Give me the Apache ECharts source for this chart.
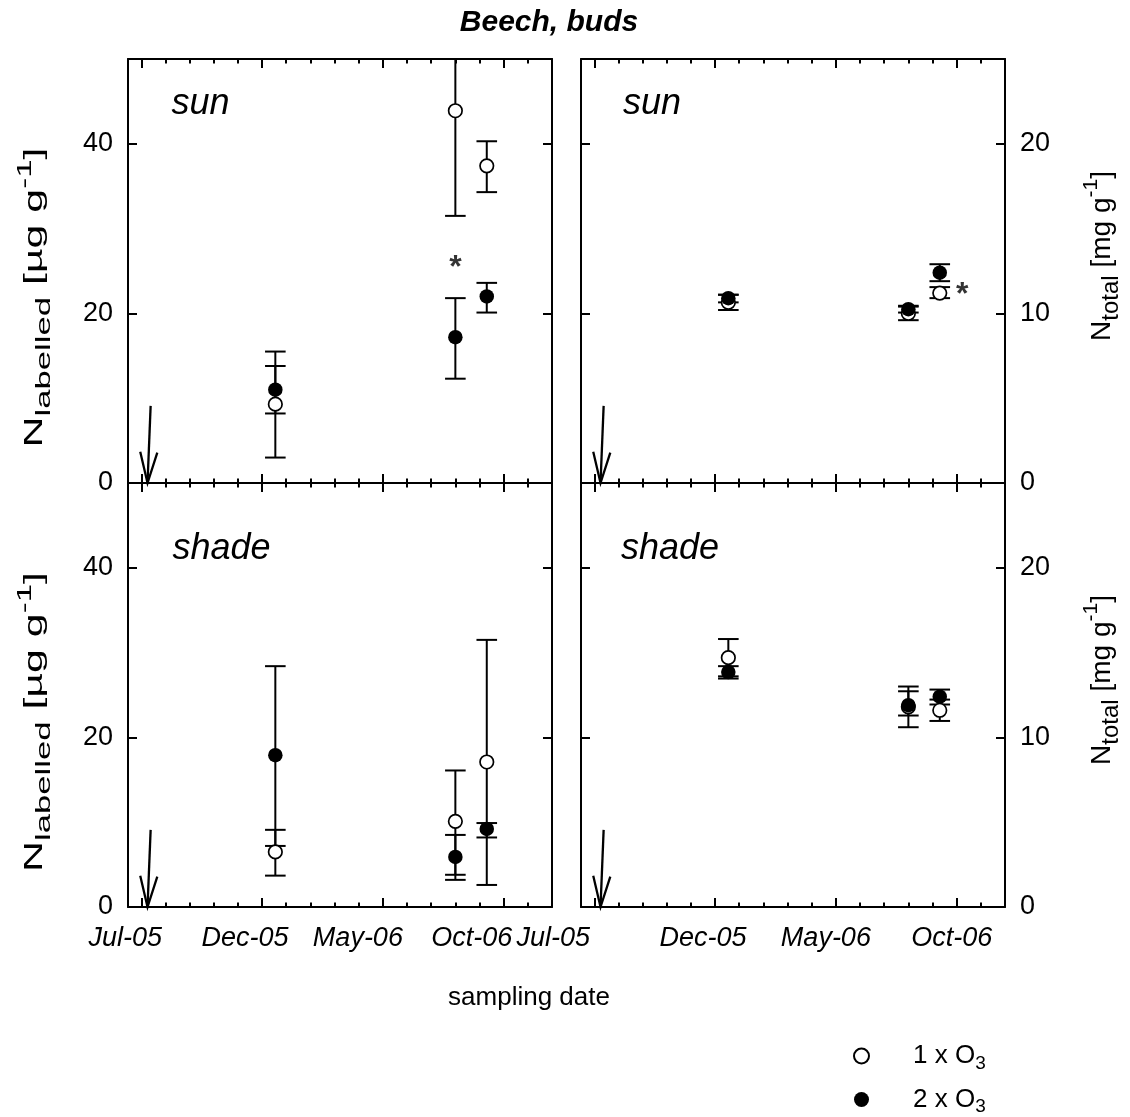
<!DOCTYPE html>
<html><head><meta charset="utf-8">
<script src="https://cdn.jsdelivr.net/npm/echarts@6/dist/echarts.min.js"></script>
<style>html,body{margin:0;padding:0;background:#fff}#c{width:1130px;height:1117px}</style>
</head><body><div id="c"></div>
<script>
// ---------- data ----------
const sampleDates = ['2005-12-18', '2006-08-01', '2006-09-10'];
const xTickVals = [0, 5, 10, 15];                 // months after Jul-05
const xTickLabels = ['Jul-05', 'Dec-05', 'May-06', 'Oct-06'];
const monthTicks = [0, 1, 2, 3, 4, 5, 6, 7, 8, 9, 10, 11, 12, 13, 14, 15, 16];
const yTicksLab = [0, 20, 40];
const yTicksTot = [0, 10, 20];
const yMaxLab = 50, yMaxTot = 25;

// sun, N labelled [µg g-1]
const sunLab1 = [9.3, 43.9, 37.4], sunLab1Lo = [3.0, 31.5, 34.3], sunLab1Hi = [15.5, 56.3, 40.3];
const sunLab2 = [11.0, 17.2, 22.0], sunLab2Lo = [8.2, 12.3, 20.1], sunLab2Hi = [13.8, 21.8, 23.6];
// sun, N total [mg g-1]
const sunTot1 = [10.65, 10.0, 11.2], sunTot1Lo = [10.2, 9.6, 10.9], sunTot1Hi = [11.1, 10.4, 11.55];
const sunTot2 = [10.9, 10.25, 12.4], sunTot2Lo = [10.65, 10.05, 11.9], sunTot2Hi = [11.1, 10.45, 12.9];
// shade, N labelled
const shadeLab1 = [6.5, 10.1, 17.1], shadeLab1Lo = [3.7, 3.8, 2.6], shadeLab1Hi = [9.1, 16.1, 31.5];
const shadeLab2 = [17.9, 5.9, 9.2], shadeLab2Lo = [7.2, 3.2, 8.2], shadeLab2Hi = [28.4, 8.5, 9.9];
// shade, N total
const shadeTot1 = [14.7, 11.8, 11.6], shadeTot1Lo = [13.6, 10.6, 10.97], shadeTot1Hi = [15.8, 13.0, 12.23];
const shadeTot2 = [13.85, 11.9, 12.4], shadeTot2Lo = [13.47, 11.29, 11.94], shadeTot2Hi = [14.2, 12.72, 12.82];

// labelling arrow (tip date, tail date) and its top value per unit
const arrowDates = ['2005-07-09', '2005-07-13'];
const arrowTopLab = 9.1, arrowTopTot = 4.55;
// significance marks
const sigSunLab = [['2006-08-01', 26.2]];
const sigSunTot = [['2006-10-08', 11.5]];

// ---------- helpers ----------
const FONT = '"Liberation Sans", Arial, Helvetica, sans-serif';
function toM(d) {
  const p = d.split('-').map(Number);
  const dim = new Date(p[0], p[1], 0).getDate();
  return (p[0] - 2005) * 12 + (p[1] - 7) + (p[2] - 1) / dim;
}
const sampleX = sampleDates.map(toM);
const pts = v => sampleX.map((x, i) => [x, v[i]]);
const errs = (lo, hi) => sampleX.map((x, i) => [x, lo[i], hi[i]]);
const ST = { stroke: '#000', lineWidth: 2, fill: null };
const STA = { stroke: '#000', lineWidth: 2.3, fill: null };

function errRender(params, api) {
  const x = api.value(0), lo = api.value(1), hi = api.value(2);
  const a = api.coord([x, lo]), b = api.coord([x, hi]);
  const cs = params.coordSys;
  const top = cs.y, bot = cs.y + cs.height;
  const y1 = Math.min(a[1], bot), y2 = Math.max(b[1], top);
  const hw = 10.3;
  const ch = [{ type: 'line', shape: { x1: a[0], y1: y1, x2: a[0], y2: y2 }, style: ST }];
  if (a[1] <= bot) ch.push({ type: 'line', shape: { x1: a[0] - hw, y1: a[1], x2: a[0] + hw, y2: a[1] }, style: ST });
  if (b[1] >= top) ch.push({ type: 'line', shape: { x1: b[0] - hw, y1: b[1], x2: b[0] + hw, y2: b[1] }, style: ST });
  return { type: 'group', children: ch };
}
function arrowRender(params, api) {
  const tip = api.coord([api.value(0), api.value(1)]);
  const tail = api.coord([api.value(2), api.value(3)]);
  const dx = tail[0] - tip[0], dy = tail[1] - tip[1], L = Math.hypot(dx, dy);
  const ux = dx / L, uy = dy / L, hl = 32, ang = 0.27, c = Math.cos(ang), s = Math.sin(ang);
  const h1 = [tip[0] + hl * (ux * c - uy * s), tip[1] + hl * (ux * s + uy * c)];
  const h2 = [tip[0] + hl * (ux * c + uy * s), tip[1] + hl * (-ux * s + uy * c)];
  return { type: 'group', children: [
    { type: 'line', shape: { x1: tip[0], y1: tip[1], x2: tail[0], y2: tail[1] }, style: STA },
    { type: 'polyline', shape: { points: [h1, tip, h2] }, style: STA }
  ] };
}

const nameRich = {
  n: { fontSize: 26, lineHeight: 40, verticalAlign: 'middle', fontFamily: FONT, color: '#000' },
  s: { fontSize: 21, lineHeight: 32, verticalAlign: 'bottom', fontFamily: FONT, color: '#000' },
  p: { fontSize: 20, lineHeight: 20, verticalAlign: 'top', fontFamily: FONT, color: '#000' }
};
const nameRichR = {
  n: { fontSize: 28, lineHeight: 42, verticalAlign: 'middle', fontFamily: FONT, color: '#000' },
  s: { fontSize: 24, lineHeight: 34, verticalAlign: 'bottom', fontFamily: FONT, color: '#000' },
  p: { fontSize: 21, lineHeight: 21, verticalAlign: 'top', fontFamily: FONT, color: '#000' }
};

const cols = [{ left: 128, shifts: [16, 17, 25, 32] }, { left: 581, shifts: [41, 12, 10, 5] }];
const rows = [{ top: 59 }, { top: 483 }];
const W = 424, H = 424;

const panels = [
  { r: 0, c: 0, max: yMaxLab, ticks: yTicksLab, m1: sunLab1, lo1: sunLab1Lo, hi1: sunLab1Hi, m2: sunLab2, lo2: sunLab2Lo, hi2: sunLab2Hi, arrowTop: arrowTopLab, sig: sigSunLab },
  { r: 0, c: 1, max: yMaxTot, ticks: yTicksTot, m1: sunTot1, lo1: sunTot1Lo, hi1: sunTot1Hi, m2: sunTot2, lo2: sunTot2Lo, hi2: sunTot2Hi, arrowTop: arrowTopTot, sig: sigSunTot },
  { r: 1, c: 0, max: yMaxLab, ticks: yTicksLab, m1: shadeLab1, lo1: shadeLab1Lo, hi1: shadeLab1Hi, m2: shadeLab2, lo2: shadeLab2Lo, hi2: shadeLab2Hi, arrowTop: arrowTopLab, sig: [] },
  { r: 1, c: 1, max: yMaxTot, ticks: yTicksTot, m1: shadeTot1, lo1: shadeTot1Lo, hi1: shadeTot1Hi, m2: shadeTot2, lo2: shadeTot2Lo, hi2: shadeTot2Hi, arrowTop: arrowTopTot, sig: [] }
];

const grid = [], xAxis = [], yAxis = [], series = [];
const lineSt = { color: '#000', width: 2 };
panels.forEach((p, g) => {
  const col = cols[p.c], row = rows[p.r];
  grid.push({ left: col.left, top: row.top, width: W, height: H, containLabel: false, outerBoundsMode: 'none' });
  const bottomRow = p.r === 1;
  const rich = {};
  col.shifts.forEach((s, i) => { rich['t' + i] = { padding: [0, 2 * s, 0, 0] }; });
  const baseX = { gridIndex: g, type: 'value', min: -0.55, max: 17, splitLine: { show: false }, axisPointer: { show: false } };
  xAxis.push(Object.assign({}, baseX, {
    position: 'bottom',
    axisLine: { show: true, onZero: false, lineStyle: lineSt },
    axisTick: { show: true, inside: true, length: 9, lineStyle: lineSt, customValues: xTickVals },
    axisLabel: {
      show: bottomRow, customValues: xTickVals, margin: 18, fontSize: 27, fontStyle: 'italic', fontFamily: FONT, color: '#000',
      formatter: v => { const i = xTickVals.indexOf(v); return i < 0 ? '' : '{t' + i + '|' + xTickLabels[i] + '}'; },
      rich: rich
    }
  }));
  xAxis.push(Object.assign({}, baseX, {
    position: 'bottom', axisLine: { show: false, onZero: false },
    axisTick: { show: true, inside: true, length: 4.5, lineStyle: lineSt, customValues: monthTicks },
    axisLabel: { show: false }
  }));
  xAxis.push(Object.assign({}, baseX, {
    position: 'top', axisLine: { show: true, onZero: false, lineStyle: lineSt },
    axisTick: { show: true, inside: true, length: 9, lineStyle: lineSt, customValues: xTickVals },
    axisLabel: { show: false }
  }));
  xAxis.push(Object.assign({}, baseX, {
    position: 'top', axisLine: { show: false, onZero: false },
    axisTick: { show: true, inside: true, length: 4.5, lineStyle: lineSt, customValues: monthTicks },
    axisLabel: { show: false }
  }));
  const baseY = { gridIndex: g, type: 'value', min: 0, max: p.max, splitLine: { show: false }, axisPointer: { show: false } };
  yAxis.push(Object.assign({}, baseY, {
    position: 'left', axisLine: { show: true, onZero: false, lineStyle: lineSt },
    axisTick: { show: true, inside: true, length: 9, lineStyle: lineSt, customValues: p.ticks },
    axisLabel: { show: p.c === 0, customValues: p.ticks, margin: 15, fontSize: 27, fontFamily: FONT, color: '#000' }
  }));
  const rightY = Object.assign({}, baseY, {
    position: 'right', axisLine: { show: true, onZero: false, lineStyle: lineSt },
    axisTick: { show: true, inside: true, length: 9, lineStyle: lineSt, customValues: p.ticks },
    axisLabel: { show: p.c === 1, customValues: p.ticks, margin: 15, fontSize: 27, fontFamily: FONT, color: '#000' }
  });
  if (p.c === 1) {
    rightY.name = '{n|N}{s|total}{n| [mg g}{p|-1}{n|]}';
    rightY.nameLocation = 'middle';
    rightY.nameRotate = 90;
    rightY.nameGap = 76;
    rightY.nameTextStyle = { color: '#000', fontFamily: FONT, fontSize: 28, padding: [0, 0, 0, 30], rich: nameRichR };
  }
  yAxis.push(rightY);

  const xi = 4 * g, yi = 2 * g;
  series.push({ type: 'custom', name: '1 x O3 error', xAxisIndex: xi, yAxisIndex: yi, renderItem: errRender, data: errs(p.lo1, p.hi1), encode: { x: 0, y: [1, 2] }, z: 2, silent: true });
  series.push({ type: 'custom', name: '2 x O3 error', xAxisIndex: xi, yAxisIndex: yi, renderItem: errRender, data: errs(p.lo2, p.hi2), encode: { x: 0, y: [1, 2] }, z: 2, silent: true });
  series.push({ type: 'scatter', name: '1 x O3', xAxisIndex: xi, yAxisIndex: yi, data: pts(p.m1), symbol: 'circle', symbolSize: 13.5,
    itemStyle: { color: '#fff', borderColor: '#000', borderWidth: 1.7, opacity: 1 }, z: 3, emphasis: { disabled: true }, silent: true });
  series.push({ type: 'scatter', name: '2 x O3', xAxisIndex: xi, yAxisIndex: yi, data: pts(p.m2), symbol: 'circle', symbolSize: 14.5,
    itemStyle: { color: '#000', borderColor: '#000', borderWidth: 0, opacity: 1 }, z: 4, emphasis: { disabled: true }, silent: true });
  series.push({ type: 'custom', name: 'labelling', xAxisIndex: xi, yAxisIndex: yi, renderItem: arrowRender,
    data: [[toM(arrowDates[0]), 0, toM(arrowDates[1]), p.arrowTop]], encode: { x: [0, 2], y: [1, 3] }, z: 2, silent: true });
  if (p.sig.length) {
    series.push({ type: 'scatter', name: 'significance', xAxisIndex: xi, yAxisIndex: yi, data: p.sig.map(d => [toM(d[0]), d[1]]),
      symbolSize: 1, itemStyle: { color: 'rgba(0,0,0,0)' }, z: 5, silent: true, emphasis: { disabled: true },
      label: { show: true, formatter: '*', position: 'inside', fontSize: 32, fontWeight: 'bold', fontFamily: FONT, color: '#000', offset: [0, 7] } });
  }
});

const txt = (x, y, text, size, extra) => ({ type: 'text', x: x, y: y, silent: true,
  style: Object.assign({ text: text, fontSize: size, fontFamily: FONT, fill: '#000', align: 'left', verticalAlign: 'middle' }, extra || {}) });
const leftName = '{n|N}{s|labelled}{n| [µg g}{p|-1}{n|]}';
const graphic = [
  txt(549, 22.5, 'Beech, buds', 30, { fontStyle: 'italic', fontWeight: 'bold', align: 'center' }),
  txt(529, 998, 'sampling date', 26, { align: 'center' }),
  txt(171.5, 103.5, 'sun', 36, { fontStyle: 'italic' }),
  txt(623, 103.5, 'sun', 36, { fontStyle: 'italic' }),
  txt(172.5, 548.5, 'shade', 36, { fontStyle: 'italic' }),
  txt(621, 548.5, 'shade', 36, { fontStyle: 'italic' }),
  { type: 'text', x: 35, y: 297.5, rotation: Math.PI / 2, scaleX: 1.65, silent: true,
    style: { text: leftName, rich: nameRich, fontSize: 26, fontFamily: FONT, fill: '#000', align: 'center', verticalAlign: 'middle' } },
  { type: 'text', x: 35, y: 722, rotation: Math.PI / 2, scaleX: 1.65, silent: true,
    style: { text: leftName, rich: nameRich, fontSize: 26, fontFamily: FONT, fill: '#000', align: 'center', verticalAlign: 'middle' } }
];

const chart = echarts.init(document.getElementById('c'), null, { renderer: 'canvas' });
chart.setOption({
  backgroundColor: '#fff',
  animation: false,
  tooltip: { show: false },
  grid: grid, xAxis: xAxis, yAxis: yAxis, series: series, graphic: graphic,
  legend: {
    data: ['1 x O3', '2 x O3'], orient: 'vertical', left: 853, top: 1039, padding: 0,
    itemWidth: 15, itemHeight: 15, itemGap: 9.5, selectedMode: false,
    formatter: n => n.replace('O3', 'O{s|3}'),
    textStyle: { fontSize: 26, fontFamily: FONT, color: '#000', lineHeight: 34, padding: [0, 0, 0, 39],
      rich: { s: { fontSize: 19, lineHeight: 20, verticalAlign: 'bottom', fontFamily: FONT, color: '#000' } } }
  }
});
</script></body></html>
